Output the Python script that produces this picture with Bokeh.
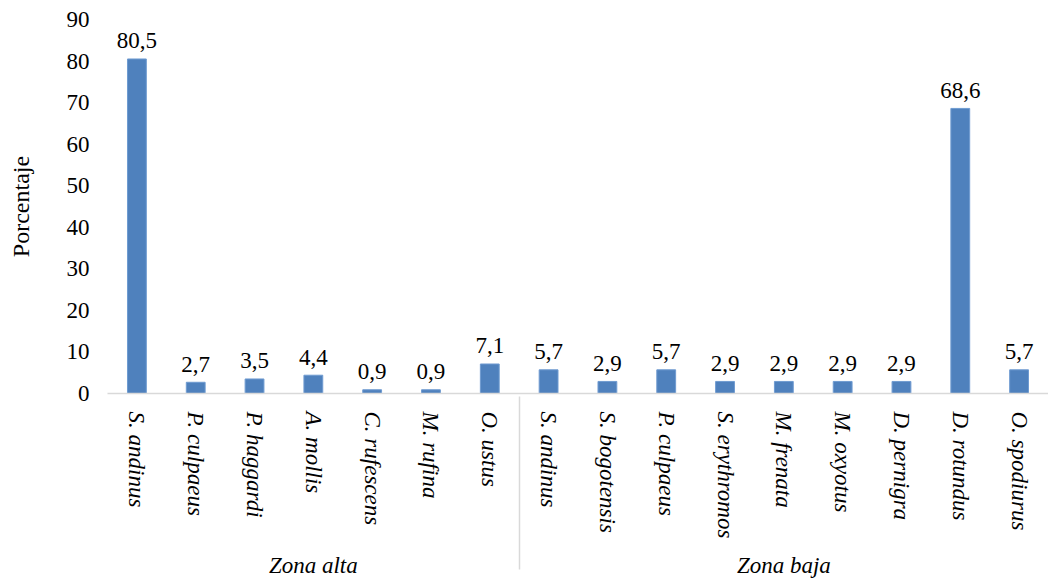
from bokeh.plotting import figure
from bokeh.models import FactorRange, ColumnDataSource, Range1d, FixedTicker
from bokeh.core.properties import value
from bokeh.embed import file_html
from bokeh.resources import INLINE

# Percentage of records per species, by zone
alta_species = ["S. andinus", "P. culpaeus", "P. haggardi", "A. mollis",
                "C. rufescens", "M. rufina", "O. ustus"]
alta_values = [80.5, 2.7, 3.5, 4.4, 0.9, 0.9, 7.1]

baja_species = ["S. andinus", "S. bogotensis", "P. culpaeus", "S. erythromos",
                "M. frenata", "M. oxyotus", "D. pernigra", "D. rotundus",
                "O. spodiurus"]
baja_values = [5.7, 2.9, 5.7, 2.9, 2.9, 2.9, 2.9, 68.6, 5.7]

y_ticks = [0, 10, 20, 30, 40, 50, 60, 70, 80, 90]

factors = [("Zona alta", s) for s in alta_species] + [("Zona baja", s) for s in baja_species]
values = alta_values + baja_values
labels = [f"{v:.1f}".replace(".", ",") for v in values]

source = ColumnDataSource(dict(x=factors, y=values, label=labels))

SERIF = "Liberation Serif"
FS = "23px"
GRID = "#d9d9d9"

p = figure(
    width=1048, height=583,
    x_range=FactorRange(*factors, range_padding=0, factor_padding=0, group_padding=0),
    y_range=Range1d(0, 90),
    output_backend="svg", toolbar_location=None,
    min_border_left=107, min_border_right=0, min_border_top=19, min_border_bottom=190,
)
p.outline_line_color = None
p.xgrid.grid_line_color = None
p.ygrid.grid_line_color = None
p.background_fill_color = "white"
p.border_fill_color = "white"

p.vbar(x="x", top="y", width=0.32, source=source,
       fill_color="#4f81bd", line_color="#6f9bd1", line_width=1)

# value labels just above each bar
p.text(x="x", y="y", text="label", source=source,
       text_align="center", text_baseline="alphabetic", y_offset=-18,
       text_font=value(SERIF), text_font_size=FS, text_color="black")

# vertical axis
ya = p.yaxis[0]
ya.ticker = FixedTicker(ticks=y_ticks)
ya.axis_line_color = None
ya.major_tick_line_color = None
ya.minor_tick_line_color = None
ya.major_label_standoff = 12
ya.major_label_text_font = SERIF
ya.major_label_text_font_size = FS
ya.major_label_text_color = "black"
ya.axis_label = "Porcentaje"
ya.axis_label_text_font = SERIF
ya.axis_label_text_font_size = "24px"
ya.axis_label_text_font_style = "normal"
ya.axis_label_text_color = "black"
ya.axis_label_standoff = 30

# category axis with zone groups
xa = p.xaxis[0]
xa.axis_line_color = GRID
xa.axis_line_width = 1.5
xa.major_tick_line_color = None
xa.minor_tick_line_color = None
xa.major_label_orientation = "vertical"
xa.major_label_standoff = 12
xa.major_label_text_font = SERIF
xa.major_label_text_font_size = FS
xa.major_label_text_font_style = "italic"
xa.major_label_text_color = "black"
xa.group_text_font = SERIF
xa.group_text_font_size = FS
xa.group_text_font_style = "italic"
xa.group_text_color = "black"
xa.separator_line_color = GRID
xa.separator_line_width = 1.5

open("out.html", "w").write(file_html(p, INLINE))
